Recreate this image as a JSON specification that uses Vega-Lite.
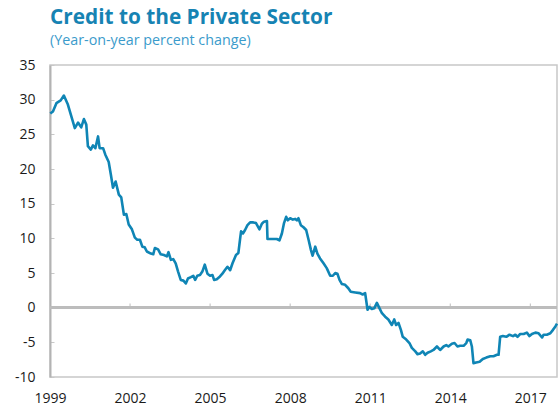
{
  "$schema": "https://vega.github.io/schema/vega-lite/v6.json",
  "width": 507,
  "height": 312,
  "autosize": {"type": "none"},
  "padding": {"left": 50, "top": 65, "right": 3, "bottom": 34},
  "background": "white",
  "config": {
    "view": {"stroke": "#c8c8c8", "strokeWidth": 1.5},
    "font": "Open Sans"
  },
  "title": {
    "text": "Credit to the Private Sector",
    "subtitle": "(Year-on-year percent change)",
    "anchor": "start",
    "frame": "group",
    "font": "Open Sans",
    "fontSize": 20.8,
    "fontWeight": "bold",
    "color": "#1683b3",
    "subtitleFont": "Open Sans",
    "subtitleFontSize": 14.3,
    "subtitleColor": "#3b9bcb",
    "subtitlePadding": 5,
    "offset": 9
  },
  "datasets": {
    "ticks": [{"yr": 2002}, {"yr": 2005}, {"yr": 2008}, {"yr": 2011}, {"yr": 2014}, {"yr": 2017}],
    "credit": [
      {"t": 1999.01, "v": 28.0}, {"t": 1999.11, "v": 28.3}, {"t": 1999.24, "v": 29.5}, {"t": 1999.40, "v": 29.9},
      {"t": 1999.52, "v": 30.6}, {"t": 1999.67, "v": 29.3}, {"t": 1999.80, "v": 27.6}, {"t": 1999.93, "v": 25.9},
      {"t": 2000.05, "v": 26.7}, {"t": 2000.17, "v": 26.0}, {"t": 2000.27, "v": 27.2}, {"t": 2000.36, "v": 26.4},
      {"t": 2000.42, "v": 23.3}, {"t": 2000.53, "v": 22.8}, {"t": 2000.61, "v": 23.4}, {"t": 2000.70, "v": 23.0},
      {"t": 2000.80, "v": 24.7}, {"t": 2000.86, "v": 23.0}, {"t": 2000.99, "v": 23.0}, {"t": 2001.07, "v": 22.1},
      {"t": 2001.20, "v": 21.0}, {"t": 2001.28, "v": 19.2}, {"t": 2001.36, "v": 17.3}, {"t": 2001.46, "v": 18.2},
      {"t": 2001.58, "v": 16.3}, {"t": 2001.67, "v": 15.9}, {"t": 2001.77, "v": 13.4}, {"t": 2001.86, "v": 13.5},
      {"t": 2001.95, "v": 12.0}, {"t": 2002.07, "v": 11.3}, {"t": 2002.18, "v": 10.1}, {"t": 2002.27, "v": 9.8},
      {"t": 2002.37, "v": 9.8}, {"t": 2002.46, "v": 8.8}, {"t": 2002.55, "v": 8.7}, {"t": 2002.63, "v": 8.1},
      {"t": 2002.78, "v": 7.8}, {"t": 2002.87, "v": 7.7}, {"t": 2002.93, "v": 8.6}, {"t": 2003.05, "v": 8.4},
      {"t": 2003.15, "v": 7.7}, {"t": 2003.27, "v": 7.6}, {"t": 2003.38, "v": 7.4}, {"t": 2003.44, "v": 8.0},
      {"t": 2003.53, "v": 6.9}, {"t": 2003.62, "v": 7.0}, {"t": 2003.71, "v": 6.4}, {"t": 2003.80, "v": 5.2},
      {"t": 2003.90, "v": 4.0}, {"t": 2004.00, "v": 3.9}, {"t": 2004.09, "v": 3.5}, {"t": 2004.17, "v": 4.2},
      {"t": 2004.28, "v": 4.4}, {"t": 2004.37, "v": 4.6}, {"t": 2004.44, "v": 4.0}, {"t": 2004.52, "v": 4.6},
      {"t": 2004.62, "v": 4.7}, {"t": 2004.71, "v": 5.2}, {"t": 2004.80, "v": 6.2}, {"t": 2004.90, "v": 4.9},
      {"t": 2005.00, "v": 4.6}, {"t": 2005.09, "v": 4.7}, {"t": 2005.15, "v": 4.0}, {"t": 2005.25, "v": 4.1},
      {"t": 2005.37, "v": 4.5}, {"t": 2005.46, "v": 4.9}, {"t": 2005.55, "v": 5.4}, {"t": 2005.65, "v": 5.9},
      {"t": 2005.75, "v": 5.4}, {"t": 2005.84, "v": 6.4}, {"t": 2005.97, "v": 7.6}, {"t": 2006.06, "v": 7.9},
      {"t": 2006.12, "v": 9.8}, {"t": 2006.16, "v": 11.0}, {"t": 2006.23, "v": 10.7}, {"t": 2006.31, "v": 11.2},
      {"t": 2006.40, "v": 11.9}, {"t": 2006.50, "v": 12.3}, {"t": 2006.62, "v": 12.3}, {"t": 2006.72, "v": 12.2},
      {"t": 2006.85, "v": 11.3}, {"t": 2006.94, "v": 12.1}, {"t": 2007.02, "v": 12.4}, {"t": 2007.13, "v": 12.5},
      {"t": 2007.15, "v": 9.9}, {"t": 2007.25, "v": 9.9}, {"t": 2007.37, "v": 9.9}, {"t": 2007.50, "v": 9.9},
      {"t": 2007.60, "v": 9.7}, {"t": 2007.69, "v": 10.7}, {"t": 2007.77, "v": 12.2}, {"t": 2007.85, "v": 13.1},
      {"t": 2007.91, "v": 12.6}, {"t": 2008.00, "v": 12.9}, {"t": 2008.10, "v": 12.7}, {"t": 2008.19, "v": 12.8},
      {"t": 2008.25, "v": 12.6}, {"t": 2008.31, "v": 12.9}, {"t": 2008.40, "v": 11.9}, {"t": 2008.50, "v": 11.6},
      {"t": 2008.60, "v": 11.2}, {"t": 2008.69, "v": 9.8}, {"t": 2008.78, "v": 8.3}, {"t": 2008.84, "v": 7.5},
      {"t": 2008.94, "v": 8.8}, {"t": 2009.02, "v": 7.8}, {"t": 2009.12, "v": 7.1}, {"t": 2009.25, "v": 6.4},
      {"t": 2009.37, "v": 5.7}, {"t": 2009.50, "v": 4.6}, {"t": 2009.60, "v": 4.6}, {"t": 2009.69, "v": 5.0},
      {"t": 2009.77, "v": 4.9}, {"t": 2009.85, "v": 4.0}, {"t": 2009.94, "v": 3.4}, {"t": 2010.06, "v": 3.3},
      {"t": 2010.18, "v": 2.8}, {"t": 2010.27, "v": 2.3}, {"t": 2010.44, "v": 2.2}, {"t": 2010.62, "v": 2.1},
      {"t": 2010.72, "v": 1.9}, {"t": 2010.81, "v": 2.1}, {"t": 2010.90, "v": -0.3}, {"t": 2010.97, "v": 0.1},
      {"t": 2011.06, "v": -0.2}, {"t": 2011.15, "v": -0.1}, {"t": 2011.25, "v": 0.7}, {"t": 2011.35, "v": -0.1},
      {"t": 2011.44, "v": -0.8}, {"t": 2011.56, "v": -1.3}, {"t": 2011.68, "v": -1.7}, {"t": 2011.81, "v": -2.5},
      {"t": 2011.90, "v": -1.7}, {"t": 2011.97, "v": -2.5}, {"t": 2012.06, "v": -2.2}, {"t": 2012.15, "v": -3.2},
      {"t": 2012.22, "v": -4.2}, {"t": 2012.35, "v": -4.6}, {"t": 2012.47, "v": -5.1}, {"t": 2012.56, "v": -5.8},
      {"t": 2012.69, "v": -6.3}, {"t": 2012.77, "v": -6.7}, {"t": 2012.87, "v": -6.6}, {"t": 2012.97, "v": -6.3},
      {"t": 2013.06, "v": -6.8}, {"t": 2013.15, "v": -6.5}, {"t": 2013.27, "v": -6.3}, {"t": 2013.37, "v": -6.1},
      {"t": 2013.50, "v": -5.6}, {"t": 2013.62, "v": -6.1}, {"t": 2013.75, "v": -5.6}, {"t": 2013.85, "v": -5.4},
      {"t": 2013.93, "v": -5.6}, {"t": 2014.06, "v": -5.2}, {"t": 2014.16, "v": -5.1}, {"t": 2014.27, "v": -5.6},
      {"t": 2014.37, "v": -5.5}, {"t": 2014.50, "v": -5.5}, {"t": 2014.60, "v": -5.1}, {"t": 2014.65, "v": -4.6},
      {"t": 2014.75, "v": -4.7}, {"t": 2014.81, "v": -5.6}, {"t": 2014.87, "v": -8.0}, {"t": 2014.97, "v": -7.9},
      {"t": 2015.10, "v": -7.8}, {"t": 2015.22, "v": -7.4}, {"t": 2015.35, "v": -7.2}, {"t": 2015.50, "v": -7.0},
      {"t": 2015.62, "v": -7.0}, {"t": 2015.75, "v": -6.8}, {"t": 2015.81, "v": -6.8}, {"t": 2015.87, "v": -4.2},
      {"t": 2015.97, "v": -4.1}, {"t": 2016.10, "v": -4.2}, {"t": 2016.22, "v": -3.9}, {"t": 2016.35, "v": -4.1},
      {"t": 2016.44, "v": -3.9}, {"t": 2016.52, "v": -4.2}, {"t": 2016.62, "v": -3.8}, {"t": 2016.75, "v": -3.8},
      {"t": 2016.87, "v": -3.6}, {"t": 2016.97, "v": -4.1}, {"t": 2017.06, "v": -3.8}, {"t": 2017.19, "v": -3.6},
      {"t": 2017.31, "v": -3.7}, {"t": 2017.44, "v": -4.3}, {"t": 2017.50, "v": -3.9}, {"t": 2017.62, "v": -3.9},
      {"t": 2017.75, "v": -3.7}, {"t": 2017.85, "v": -3.2}, {"t": 2017.94, "v": -2.7}, {"t": 2018.00, "v": -2.3}
    ]
  },
  "data": {"name": "credit"},
  "layer": [
    {
      "mark": {"type": "rule", "color": "#bdbdbd", "strokeWidth": 2},
      "encoding": {"y": {"datum": 0, "type": "quantitative", "scale": {"domain": [-10, 35], "nice": false}, "axis": null}}
    },
    {
      "data": {"name": "ticks"},
      "mark": {"type": "rule", "color": "#bdbdbd", "strokeWidth": 1},
      "encoding": {
        "x": {"field": "yr", "type": "quantitative", "scale": {"domain": [1999, 2018], "nice": false, "zero": false}, "axis": null},
        "y": {"datum": 0, "type": "quantitative", "scale": {"domain": [-10, 35], "nice": false}, "axis": null},
        "y2": {"datum": 0.6}
      }
    },
    {
      "mark": {"type": "line", "color": "#0f85b5", "strokeWidth": 2.6, "strokeJoin": "round"},
      "encoding": {
        "x": {
          "field": "t",
          "type": "quantitative",
          "scale": {"domain": [1999, 2018], "nice": false, "zero": false},
          "axis": {
            "orient": "bottom",
            "title": null,
            "values": [1999, 2002, 2005, 2008, 2011, 2014, 2017],
            "format": "d",
            "domain": false,
            "ticks": false,
            "grid": false,
            "labelFont": "Open Sans",
            "labelFontSize": 14,
            "labelColor": "#1a1a1a",
            "labelPadding": 14,
            "labelFlush": false,
            "labelOverlap": false
          }
        },
        "y": {
          "field": "v",
          "type": "quantitative",
          "scale": {"domain": [-10, 35], "nice": false},
          "axis": {
            "orient": "left",
            "title": null,
            "values": [-10, -5, 0, 5, 10, 15, 20, 25, 30, 35],
            "labelExpr": "datum.value < 0 ? '-' + abs(datum.value) : '' + datum.value",
            "domain": true,
            "domainColor": "#b3b3b3",
            "domainWidth": 2,
            "ticks": true,
            "tickSize": -4,
            "tickColor": "#c8c8c8",
            "tickWidth": 1,
            "grid": false,
            "labelFont": "Open Sans",
            "labelFontSize": 14,
            "labelColor": "#1a1a1a",
            "labelPadding": 19,
            "labelFlush": false,
            "labelOverlap": false,
            "labelBound": false
          }
        }
      }
    }
  ],
  "resolve": {"axis": {"x": "independent", "y": "independent"}}
}
